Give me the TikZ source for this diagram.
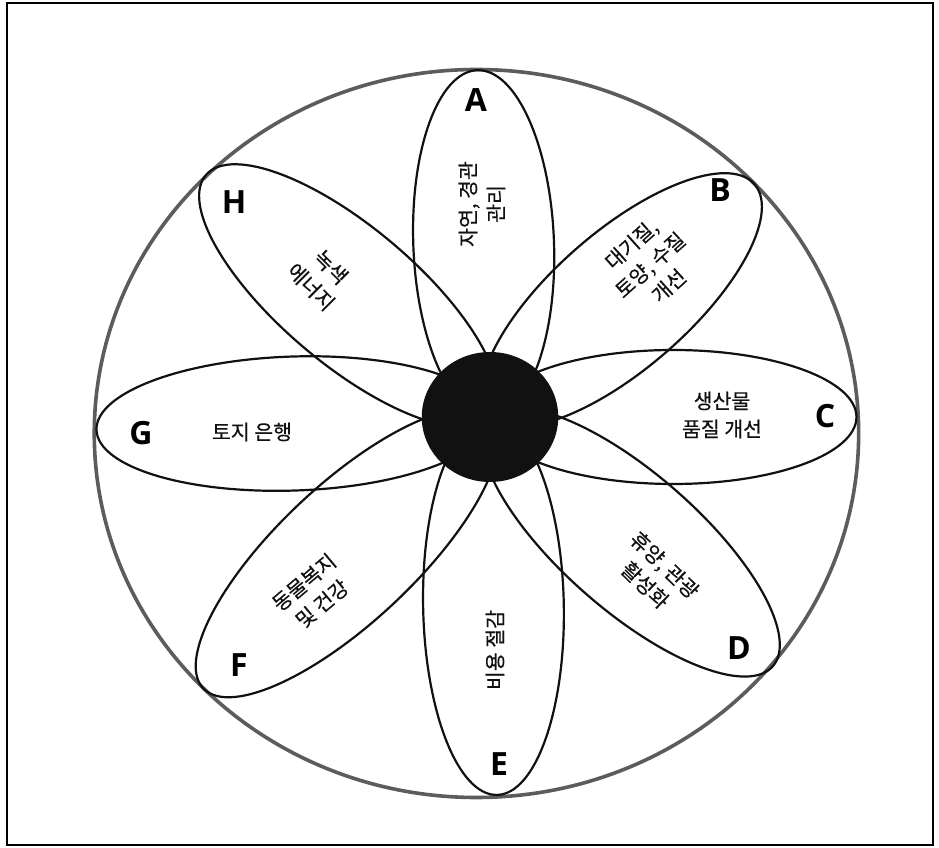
\documentclass[tikz,border=0pt]{standalone}
\usepackage{fontspec}
\newfontfamily\krfont{Noto Sans CJK KR}[FakeBold=0.4]
\newfontfamily\letterfont{Open Sans}
\usepackage{tikz}
\usetikzlibrary{calc}
\definecolor{rimgray}{HTML}{5C5C5C}
\definecolor{inkblack}{HTML}{111111}
\tikzset{
  frame/.style={draw=black, line width=1.4pt},
  rim/.style={draw=rimgray, line width=3.6pt},
  petal/.style={draw=inkblack, line width=2.2pt},
  core/.style={fill=inkblack},
  petalletter/.style={font=\letterfont\bfseries\fontsize{32}{32}\selectfont, inner sep=0pt},
  petaltext/.style={font=\krfont\fontsize{20.5}{28}\selectfont, align=center, inner sep=0pt, text=inkblack}
}
\begin{document}
\begin{tikzpicture}[x=1pt, y=1pt]
  \useasboundingbox (0,0) rectangle (939,848);
  \draw[frame] (7,3) rectangle (933,845);
  \begin{scope}[shift={(490,431)}, xscale=1.05]
    \coordinate (centre) at (0,0);
    \draw[rim] (-12.9,-16.5) circle [radius=364];
    \foreach \ang/\len in {92/347, 43/343, 0/349, -43/367, -89/378, -135/385, 182/375, 138/363}{
      \draw[petal, rotate=\ang] ({\len/2},0) ellipse [x radius={\len/2}, y radius=67];
    }
    \fill[core] (centre) circle [radius=65];
  \end{scope}
  \node[petalletter] (letterA) at (476,748) {A};
  \node[petalletter] (letterB) at (720,658) {B};
  \node[petalletter] (letterC) at (825,432) {C};
  \node[petalletter] (letterD) at (739,200) {D};
  \node[petalletter] (letterE) at (499,84) {E};
  \node[petalletter] (letterF) at (239,183) {F};
  \node[petalletter] (letterG) at (141,415) {G};
  \node[petalletter] (letterH) at (234,646) {H};
  \node[petaltext, rotate=90] (textA) at (482,644) {자연, 경관\\관리};
  \node[petaltext, rotate=42] (textB) at (650,583) {대기질,\\토양, 수질\\개선};
  \node[petaltext] (textC) at (722,433) {생산물\\품질 개선};
  \node[petaltext, rotate=-44] (textD) at (655,273) {휴양, 관광\\활성화};
  \node[petaltext, rotate=90] (textE) at (495,198) {비용 절감};
  \node[petaltext, rotate=40] (textF) at (313,255) {동물복지\\및 건강};
  \node[petaltext] (textG) at (252,416) {토지 은행};
  \node[petaltext, rotate=-45] (textH) at (321,571) {녹색\\에너지};
\end{tikzpicture}
\end{document}
